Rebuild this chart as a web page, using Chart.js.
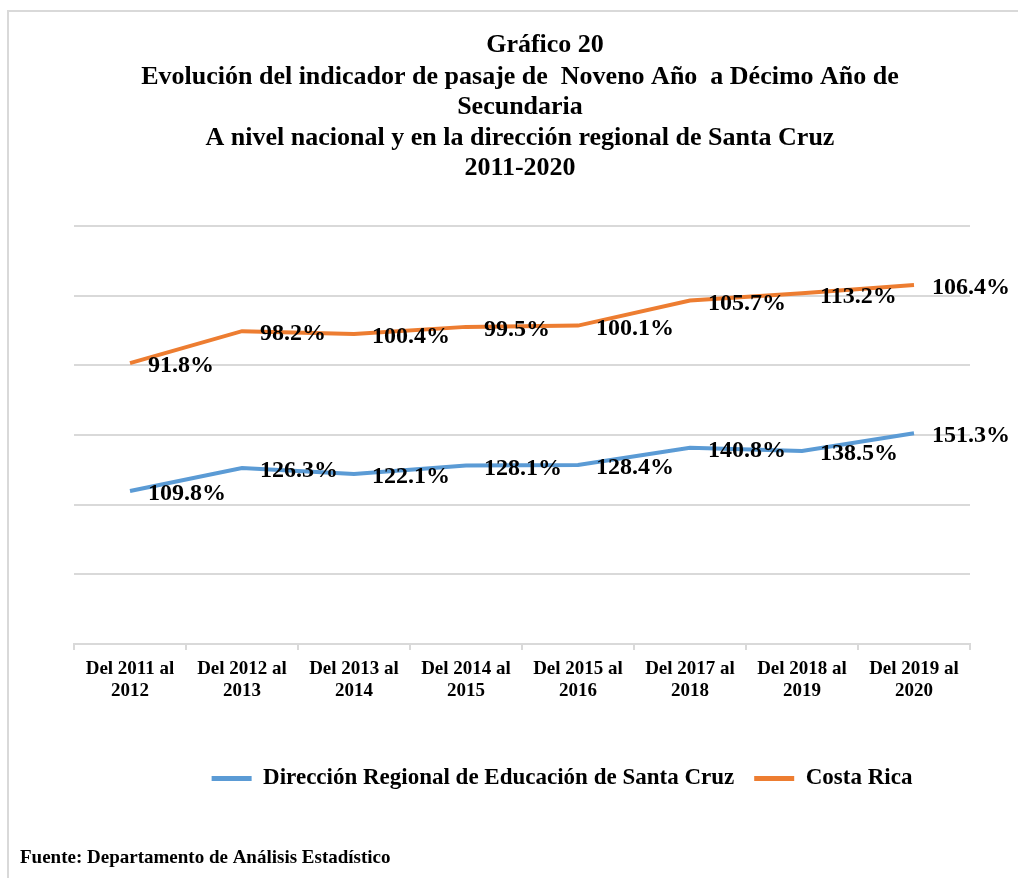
<!DOCTYPE html>
<html>
<head>
<meta charset="utf-8">
<script src="https://cdn.jsdelivr.net/npm/chart.js@4"></script>
<style>
  body { margin: 0; background: #fff; }
  #wrap { width: 1018px; height: 878px; position: relative; }
</style>
</head>
<body>
<div id="wrap"><canvas id="chart"></canvas></div>
<script>
// data
const titleLines = [
  'Gráfico 20',
  'Evolución del indicador de pasaje de  Noveno Año  a Décimo Año de',
  'Secundaria',
  'A nivel nacional y en la dirección regional de Santa Cruz',
  '2011-2020'
]
const sourceText = 'Fuente: Departamento de Análisis Estadístico'

const categories = [
  ['Del 2011 al', '2012'], ['Del 2012 al', '2013'], ['Del 2013 al', '2014'],
  ['Del 2014 al', '2015'], ['Del 2015 al', '2016'], ['Del 2017 al', '2018'],
  ['Del 2018 al', '2019'], ['Del 2019 al', '2020']
]
const santaCruzLabel = 'Dirección Regional de Educación de Santa Cruz'
const costaRicaLabel = 'Costa Rica'
const santaCruz = [109.8, 126.3, 122.1, 128.1, 128.4, 140.8, 138.5, 151.3]
const costaRica = [91.8, 98.2, 100.4, 99.5, 100.1, 105.7, 113.2, 106.4]

const SERIF = "'Liberation Serif', 'Times New Roman', serif"
Chart.defaults.font.family = SERIF
Chart.defaults.color = '#000'

// frame, title and source note
const decorations = {
  id: 'decorations',
  beforeDraw(chart) {
    const ctx = chart.ctx
    ctx.save()
    ctx.strokeStyle = '#d9d9d9'
    ctx.lineWidth = 2
    ctx.strokeRect(8, 11, 1100, 1000)
    ctx.fillStyle = '#000'
    ctx.textBaseline = 'middle'
    ctx.textAlign = 'center'
    ctx.font = 'bold 26px ' + SERIF
    const ys = [45, 77, 107, 138, 168]
    titleLines.forEach((t, i) => {
      ctx.fillText(t, i == 0 ? 545 : 520, ys[i])
    })
    ctx.textAlign = 'left'
    ctx.font = 'bold 19px ' + SERIF
    ctx.fillText(sourceText, 20, 858)
    ctx.restore()
  },
  afterLayout(chart) {
    // legend sits right of centre in the original
    chart.legend.left += 40
    chart.legend.right += 40
  }
}

// value labels to the right of each point
const pointLabels = {
  id: 'pointLabels',
  afterDatasetsDraw(chart) {
    const ctx = chart.ctx
    ctx.save()
    ctx.font = 'bold 24px ' + SERIF
    ctx.fillStyle = '#000'
    ctx.textAlign = 'left'
    ctx.textBaseline = 'middle'
    chart.data.datasets.forEach((ds, i) => {
      const meta = chart.getDatasetMeta(i)
      meta.data.forEach((pt, j) => {
        ctx.fillText(ds.data[j].toFixed(1) + '%', pt.x + 18, pt.y + 3)
      })
    })
    ctx.restore()
  }
}

new Chart(document.getElementById('chart'), {
  type: 'line',
  data: {
    labels: categories,
    datasets: [
      {
        label: santaCruzLabel,
        data: santaCruz,
        borderColor: '#5b9bd5',
        backgroundColor: '#5b9bd5',
        borderWidth: 4,
        pointRadius: 0,
        tension: 0,
        fill: false
      },
      {
        label: costaRicaLabel,
        data: costaRica,
        borderColor: '#ed7d31',
        backgroundColor: '#ed7d31',
        borderWidth: 4,
        pointRadius: 0,
        tension: 0,
        fill: false
      }
    ]
  },
  options: {
    responsive: true,
    maintainAspectRatio: false,
    animation: false,
    layout: { padding: { top: 226, left: 74, right: 48, bottom: 78 } },
    plugins: {
      title: { display: false },
      tooltip: { enabled: false },
      legend: {
        position: 'bottom',
        labels: {
          boxWidth: 40,
          boxHeight: 5,
          padding: 20,
          color: '#000',
          font: { size: 23, weight: 'bold' },
          generateLabels(chart) {
            return Chart.defaults.plugins.legend.labels.generateLabels(chart)
              .map(item => ({ ...item, lineWidth: 0 }))
          }
        }
      }
    },
    scales: {
      x: {
        offset: true,
        grid: {
          offset: true,
          drawOnChartArea: false,
          drawTicks: true,
          tickLength: 6,
          color: '#d9d9d9',
          lineWidth: 2
        },
        border: { display: true, color: '#d9d9d9', width: 2 },
        ticks: {
          padding: 8,
          maxRotation: 0,
          color: '#000',
          font: { size: 19, weight: 'bold', lineHeight: 1.16 }
        },
        afterFit(scale) { scale.height = 103 }
      },
      y: {
        stacked: true,
        min: 0,
        max: 300,
        ticks: { display: false, stepSize: 50 },
        grid: { color: '#d9d9d9', lineWidth: 2, drawTicks: false },
        border: { display: false }
      }
    }
  },
  plugins: [decorations, pointLabels]
})
</script>
</body>
</html>
